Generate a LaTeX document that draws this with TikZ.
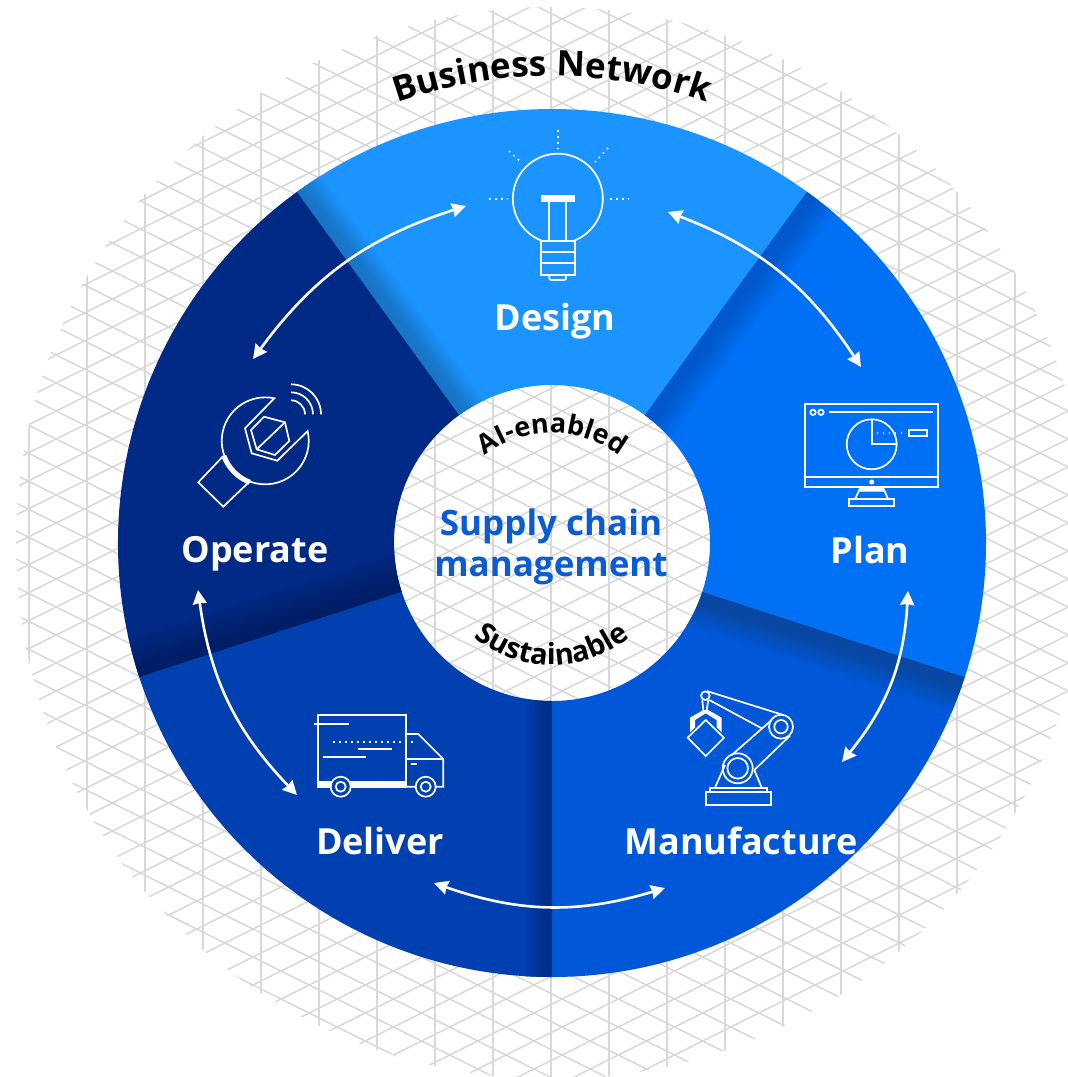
\documentclass[tikz,border=0pt]{standalone}
\usepackage{fontspec}
\setmainfont{Open Sans}
\usetikzlibrary{arrows.meta,decorations.text}
\definecolor{designblue}{HTML}{1B94FF}
\definecolor{designdark}{HTML}{1776C8}
\definecolor{planblue}{HTML}{0070F5}
\definecolor{plandark}{HTML}{0058CC}
\definecolor{makeblue}{HTML}{0057D8}
\definecolor{makedark}{HTML}{0847A3}
\definecolor{deliverblue}{HTML}{0040B0}
\definecolor{deliverdark}{HTML}{00308C}
\definecolor{operateblue}{HTML}{002A86}
\definecolor{operatedark}{HTML}{001E68}
\definecolor{hubblue}{HTML}{0A5BD4}
\definecolor{meshgrey}{HTML}{D8D8D8}
\begin{document}
\begin{tikzpicture}[x=1pt, y=1pt,
    meshline/.style={draw=meshgrey, line width=1.5pt},
    meshpost/.style={draw=meshgrey, line width=2pt},
    stagelabel/.style={text=white, font=\bfseries\fontsize{36}{36}\selectfont},
    hublabel/.style={text=hubblue, align=center, font=\bfseries\fontsize{35}{41}\selectfont},
    flowarrow/.style={draw=white, line width=2.6pt, {Stealth[length=14pt,width=14pt,inset=1pt]}-{Stealth[length=14pt,width=14pt,inset=1pt]}},
    icon/.style={draw=white, line width=1.7pt},
    iconthick/.style={draw=white, line width=2.6pt},
    icondots/.style={draw=white, line width=1.6pt, dash pattern=on 1.6pt off 4.4pt}]
  \useasboundingbox (0,-1077) rectangle (1068,0);
  \fill[white] (0,-1077) rectangle (1068,0);
  \coordinate (hub) at (552,-543);

  % Mesh behind the wheel
  \begin{scope}
    \clip (hub) circle (536);
    \foreach \k in {-9,...,9}
      \draw[meshpost] ({551+58*\k},0) -- ({551+58*\k},-1077);
    \foreach \k in {-32,...,32} {
      \draw[meshline] (0,{-453-28*\k-266}) -- (1068,{-453-28*\k+266});
      \draw[meshline] (0,{-453-28*\k+266}) -- (1068,{-453-28*\k-266});
    }
  \end{scope}

  % Sectors, each with the shadow along its first edge
  \begin{scope}[transform canvas={shift={(552,-543)}}]
    \foreach \a/\base/\dark/\w in {126/designblue/designdark/30, 54/planblue/plandark/36,
        -18/makeblue/makedark/38, -90/deliverblue/deliverdark/28, 198/operateblue/operatedark/44} {
      \begin{scope}
        \clip (\a:158) -- (\a:434) arc[start angle=\a, delta angle=-72, radius=434]
          -- ({\a-72}:158) arc[start angle=\a-72, delta angle=72, radius=158] -- cycle;
        \fill[\base] (0,0) circle (440);
        \fill[\dark, transform canvas={rotate=\a}] (0,{-0.3*\w}) rectangle (440,0);
        \shade[top color=\dark, bottom color=\base, transform canvas={rotate=\a}] (0,-\w) rectangle (440,{-0.3*\w});
      \end{scope}
    }
  \end{scope}

  % Ring and hub texts
  \path[decorate, decoration={text along path, text align=center,
      text={|\bfseries\fontsize{35}{35}\selectfont|Business Network}}]
    (552,-543) ++(115:467) arc[start angle=115, end angle=65, radius=467];
  \path[decorate, decoration={text along path, text align=center,
      text={|\bfseries\fontsize{27}{27}\selectfont|AI-enabled}}]
    (552,-543) ++(135:110) arc[start angle=135, end angle=45, radius=110];
  \path[decorate, decoration={text along path, text align=center,
      text={|\bfseries\fontsize{29}{29}\selectfont|Sustainable}}]
    (552,-543) ++(-145:122) arc[start angle=-145, end angle=-35, radius=122];
  \node[hublabel] (hubtext) at (551,-547) {Supply chain\\management};

  \node[stagelabel] (design) at (555,-321) {Design};
  \node[stagelabel] (plan) at (870,-550) {Plan};
  \node[stagelabel] (manufacture) at (741,-841) {Manufacture};
  \node[stagelabel] (deliver) at (380,-841) {Deliver};
  \node[stagelabel] (operate) at (255,-554) {Operate};

  % Arrows round the wheel
  \coordinate (operateup) at (253,-359);
  \coordinate (designleft) at (466,-206);
  \coordinate (designright) at (668,-212);
  \coordinate (planup) at (861,-367);
  \coordinate (plandown) at (908,-591);
  \coordinate (makeup) at (842,-762);
  \coordinate (makedown) at (665,-888);
  \coordinate (deliverright) at (434,-883);
  \coordinate (deliverleft) at (297,-795);
  \coordinate (operatedown) at (198,-590);
  \foreach \p/\q in {operateup/designleft, designright/planup, plandown/makeup,
      makedown/deliverright, deliverleft/operatedown}
    \draw[flowarrow] (\p) to[bend left=18] (\q);

  % Bulb
  \draw[icon] (541.7,-240.7) arc[start angle=-111, end angle=-429, radius=45];
  \draw[icon] (540.7,-240.7) rectangle (575,-275);
  \draw[icon] (540.7,-252.3) -- (575,-252.3) (540.7,-263.3) -- (575,-263.3);
  \draw[icon, rounded corners=2pt] (549.3,-275) -- (549.3,-280) -- (566,-280) -- (566,-275);
  \fill[white] (540.7,-195.3) rectangle (575,-202.3);
  \draw[icon] (549.3,-202) -- (549.3,-240.7) (566,-202) -- (566,-240.7);
  \draw[icondots] (557.7,-130) -- (557.7,-149);
  \draw[icondots] (489,-199) -- (508,-199);
  \draw[icondots] (610,-199) -- (629,-199);
  \draw[icondots] (509,-151) -- (522,-163);
  \draw[icondots] (608,-148) -- (595,-162);

  % Monitor
  \draw[icon] (805.3,-404) rectangle (937.7,-487.3);
  \draw[icon] (805.3,-476.7) -- (937.7,-476.7);
  \draw[icon] (813,-412.3) circle (2.7) (821,-412.3) circle (2.7);
  \draw[iconthick] (829.3,-412) -- (932.7,-412);
  \draw[icon] (871.7,-444.3) circle (25);
  \draw[icon] (871.7,-419.3) -- (871.7,-444.3) -- (896.7,-444.3);
  \draw[icondots] (876.7,-432.7) -- (905,-432.7);
  \draw[icon] (908.7,-430) rectangle (927.3,-435.7);
  \fill[white] (871.7,-482) circle (2.5);
  \draw[icon] (860,-488.3) -- (855,-499.3) (883.3,-488.3) -- (888.3,-499.3);
  \fill[white] (860,-487.3) -- (858.2,-491.7) -- (885.1,-491.7) -- (883.3,-487.3) -- cycle;
  \draw[icon] (849.3,-499.3) rectangle (894,-505.7);

  % Robot arm
  \draw[icon] (705.7,-791.7) rectangle (770.7,-805);
  \draw[icon] (710,-787.7) rectangle (766.7,-791.7);
  \draw[icon] (715,-787.7) -- (725,-765) (761.7,-787.7) -- (754.3,-770);
  \draw[icon] (731.7,-755) -- (771.7,-720) (754.3,-770) -- (790,-735.7);
  \draw[icon] (706.7,-691) -- (783.3,-715) (709.3,-700) -- (761.7,-728.3);
  \draw[icon] (737.7,-768.3) circle (15) (737.7,-768.3) circle (10.3);
  \draw[icon] (781,-726.7) circle (12) (781,-726.7) circle (6.7);
  \draw[icon] (705.3,-695.7) circle (4.3);
  \draw[icon] (702.3,-700) -- (703.3,-710) (708.3,-700) -- (706.7,-710);
  \fill[white] (690,-732.3) -- (690,-717.7) -- (703.3,-710) -- (708.3,-710) -- (721.7,-717.7)
    -- (721.7,-732.3) -- (716.7,-727.3) -- (716.7,-720) -- (705.7,-713.3) -- (695,-720)
    -- (695,-727.3) -- cycle;
  \filldraw[icon, fill=makeblue] (705.7,-720) -- (724,-737.7) -- (705.7,-756) -- (687.7,-737.7) -- cycle;

  % Truck
  \draw[icon] (318.3,-715) rectangle (406,-787.3);
  \fill[white] (318.3,-781) rectangle (406,-787.3);
  \draw[icon] (314.3,-724) -- (349.3,-724);
  \draw[icondots] (333.3,-741.7) -- (415,-741.7);
  \draw[icon] (358.3,-749) -- (391.7,-749) (323.3,-756.7) -- (365.7,-756.7);
  \draw[icon] (406,-734) -- (418.3,-734) -- (443.3,-759) -- (443.3,-786.7) -- (406,-786.7);
  \draw[icon] (406,-759) -- (443.3,-759);
  \draw[iconthick, line width=2pt] (411,-763.7) -- (416.7,-763.7);
  \filldraw[icon, fill=deliverblue] (340.7,-786.7) circle (10);
  \draw[icon] (340.7,-786.7) circle (5);
  \filldraw[icon, fill=deliverblue] (425.7,-786.7) circle (10);
  \draw[icon] (425.7,-786.7) circle (5);

  % Wrench
  \draw[icon] (274.3,-398.3) arc[start angle=78, end angle=373, radius=43.5]
    -- (277.3,-460.7) -- (251.7,-453.3) -- (245,-428.3) -- cycle;
  \draw[draw=white, line width=5pt] (223.9,-455.9) arc[start angle=200, end angle=249, radius=44.5];
  \draw[icon] (223.3,-456) -- (198.3,-482.3) -- (223.3,-506.7) -- (249.3,-481.7);
  \draw[icon] (264,-416.7) -- (285,-422.3) -- (289.3,-441) -- (275,-455) -- (256.7,-449.3) -- (251,-430) -- cycle;
  \draw[icon] (285,-422.3) -- (256.7,-449.3);
  \draw[icon] (291,-384.3) arc[start angle=90, end angle=0, radius=30];
  \draw[icon] (291,-392.3) arc[start angle=90, end angle=0, radius=22];
  \draw[icon] (291,-400.3) arc[start angle=90, end angle=0, radius=14];
\end{tikzpicture}
\end{document}
